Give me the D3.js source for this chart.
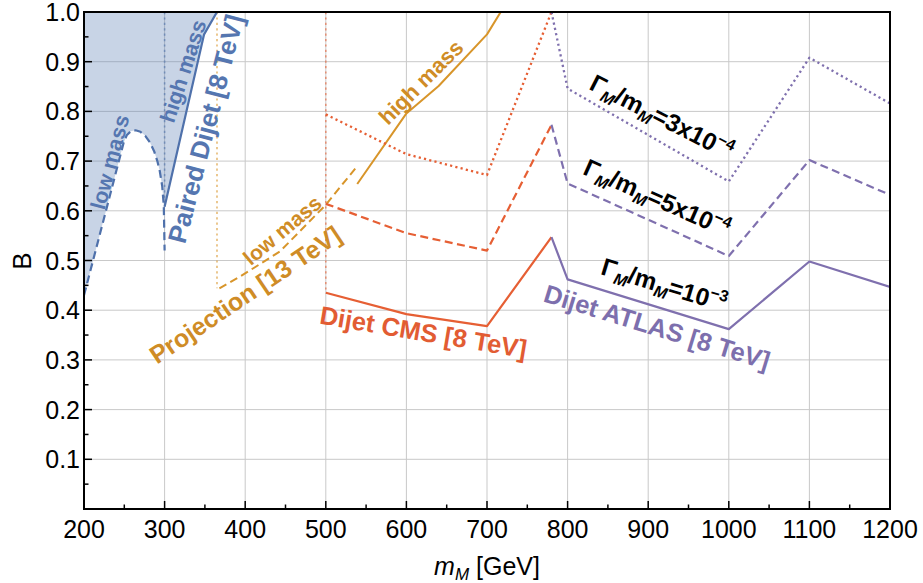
<!DOCTYPE html>
<html><head><meta charset="utf-8">
<script src="https://cdn.jsdelivr.net/npm/d3@7"></script>
<style>body{margin:0;background:#fff}text{font-family:"Liberation Sans",Arial,sans-serif}</style>
</head><body><svg id="c" width="923" height="583"></svg>
<script>
// ---- data ----
const xTicks=[200,300,400,500,600,700,800,900,1000,1100,1200];
const xMinor=[250,350,450,550,650,750,850,950,1050,1150];
const yTicks=[0.1,0.2,0.3,0.4,0.5,0.6,0.7,0.8,0.9,1.0];
const yMinor=[0.05,0.15,0.25,0.35,0.45,0.55,0.65,0.75,0.85,0.95];
const pairedLow=[[200,0.43],[249,0.736],[253,0.752],[258,0.76],[264,0.762],[270,0.759],[276,0.751],[282,0.737],[287,0.72],[291,0.70],[294,0.68],[297,0.65],[299,0.61],[300,0.52]];
const pairedHigh=[[300,0.608],[349,0.955],[365,1.0]];
const pairedEdge=[[300,1.0],[300,0.608]];
const projLow=[[368,0.444],[393,0.467],[443,0.518],[500,0.612],[539,0.69]];
const projHigh=[[539,0.654],[600,0.796],[640,0.851],[700,0.955],[717,1.0]];
const projEdge=[[365,1.0],[365,0.444]];
const cmsEdge=[[500,1.0],[500,0.435]];
const cmsDotted=[[500,0.794],[600,0.714],[700,0.672],[780,1.0]];
const cmsDashed=[[500,0.614],[600,0.555],[700,0.52],[780,0.773]];
const cmsSolid=[[500,0.435],[600,0.392],[700,0.368],[780,0.547]];
const atlasDotted=[[780,1.0],[800,0.846],[1000,0.659],[1100,0.908],[1200,0.816]];
const atlasDashed=[[780,0.773],[800,0.655],[1000,0.509],[1100,0.702],[1200,0.632]];
const atlasSolid=[[780,0.547],[800,0.462],[1000,0.362],[1100,0.498],[1200,0.447]];

const C={blue:"#4f71ab",orange:"#d8952a",red:"#e65f34",purple:"#7f70ae"};
const T={blue:"#5576b0",orange:"#cf8c26",red:"#e25c33",purple:"#7d6fad"};

const svg=d3.select("#c");
const x=d3.scaleLinear().domain([200,1200]).range([84,890]);
const y=d3.scaleLinear().domain([0,1]).range([509,12]);
const line=d3.line().x(d=>x(d[0])).y(d=>y(d[1]));

svg.append("defs").append("clipPath").attr("id","clip").append("rect")
  .attr("x",84).attr("y",12).attr("width",806).attr("height",497);

// grid
const g=svg.append("g");
g.selectAll(".gx").data(xTicks).join("line").attr("x1",d=>x(d)).attr("x2",d=>x(d))
  .attr("y1",y(0)).attr("y2",y(1)).attr("stroke","#c9c9c9").attr("stroke-width",1);
g.selectAll(".gy").data(yTicks).join("line").attr("y1",d=>y(d)).attr("y2",d=>y(d))
  .attr("x1",x(200)).attr("x2",x(1200)).attr("stroke","#c9c9c9").attr("stroke-width",1);

const p=svg.append("g").attr("clip-path","url(#clip)");
// fill region
const poly=pairedLow.concat(pairedHigh).concat([[200,1.0]]);
p.append("path").attr("d",line(poly)+"Z").attr("fill","#5e81b5").attr("fill-opacity",0.34);

function draw(data,color,style,w,op){
  const path=p.append("path").attr("d",line(data)).attr("fill","none").attr("stroke",color)
    .attr("stroke-width",w||2).attr("stroke-opacity",op||1).attr("stroke-linejoin","round");
  if(style==="dash") path.attr("stroke-dasharray","8,4.5");
  if(style==="dot") path.attr("stroke-dasharray","2.2,3.2");
}
draw(pairedEdge,C.blue,"dot",1.6,0.6);
draw(projEdge,C.orange,"dot",1.6,0.65);
draw(cmsEdge,C.red,"dot",1.6,0.6);
draw(pairedLow,C.blue,"dash",2.2);
draw(pairedHigh,C.blue,"solid",2.2);
draw(projLow,C.orange,"dash",2);
draw(projHigh,C.orange,"solid",2);
draw(cmsDotted,C.red,"dot",2.3);
draw(cmsDashed,C.red,"dash",2.2);
draw(cmsSolid,C.red,"solid",2.2);
draw(atlasDotted,C.purple,"dot",2.3);
draw(atlasDashed,C.purple,"dash",2.2);
draw(atlasSolid,C.purple,"solid",2.2);

// frame & axes
svg.append("rect").attr("x",84).attr("y",12).attr("width",806).attr("height",497)
  .attr("fill","none").attr("stroke","#000").attr("stroke-width",2);
const ax=svg.append("g").attr("stroke","#000").attr("stroke-width",1.5);
ax.selectAll(".tx").data(xTicks).join("line").attr("x1",d=>x(d)).attr("x2",d=>x(d)).attr("y1",y(0)).attr("y2",y(0)-8);
ax.selectAll(".mx").data(xMinor).join("line").attr("x1",d=>x(d)).attr("x2",d=>x(d)).attr("y1",y(0)).attr("y2",y(0)-4.5);
ax.selectAll(".ty").data(yTicks).join("line").attr("y1",d=>y(d)).attr("y2",d=>y(d)).attr("x1",x(200)).attr("x2",x(200)+8);
ax.selectAll(".my").data(yMinor).join("line").attr("y1",d=>y(d)).attr("y2",d=>y(d)).attr("x1",x(200)).attr("x2",x(200)+4.5);

svg.selectAll(".lx").data(xTicks).join("text").attr("x",d=>x(d)).attr("y",538)
  .attr("text-anchor","middle").attr("font-size",25).text(d=>d);
svg.selectAll(".ly").data(yTicks).join("text").attr("x",80).attr("y",d=>y(d)+9)
  .attr("text-anchor","end").attr("font-size",25).text(d=>d.toFixed(1));
svg.append("text").attr("transform","translate(31,261) rotate(-90)").attr("text-anchor","middle")
  .attr("font-size",26).text("B");
const xt=svg.append("text").attr("x",487).attr("y",575).attr("text-anchor","middle").attr("font-size",25);
xt.append("tspan").attr("font-style","italic").text("m");
xt.append("tspan").attr("font-style","italic").attr("font-size",17).attr("dy",5).text("M");
xt.append("tspan").attr("dy",-5).text(" [GeV]");

// labels
function label(xv,yv,rot,txt,color,size){
  return svg.append("text").attr("transform",`translate(${x(xv)},${y(yv)}) rotate(${rot})`)
    .attr("text-anchor","middle").attr("dy","0.35em").attr("font-size",size)
    .attr("font-weight","bold").attr("fill",color).text(txt);
}
label(232,0.698,-75,"low mass",T.blue,21.5);
label(323,0.881,-72,"high mass",T.blue,21.5);
label(351,0.765,-75.5,"Paired Dijet [8 TeV]",T.blue,26);
label(446,0.561,-40,"low mass",T.orange,21);
label(400,0.431,-34,"Projection [13 TeV]",T.orange,25);
label(618,0.859,-45,"high mass",T.orange,22);
label(621,0.356,9.5,"Dijet CMS [8 TeV]",T.red,25.5);
label(911,0.366,17,"Dijet ATLAS [8 TeV]",T.purple,25.5);

function gamma(xv,yv,rot,val,exp){
  const t=svg.append("text").attr("transform",`translate(${x(xv)},${y(yv)}) rotate(${rot})`)
    .attr("text-anchor","middle").attr("font-size",24.5).attr("font-weight","bold").attr("fill","#000")
    .attr("dy","0.35em");
  t.append("tspan").text("Γ");
  t.append("tspan").attr("font-size",16).attr("font-style","italic").attr("dy",5).text("M");
  t.append("tspan").attr("dy",-5).text("/m");
  t.append("tspan").attr("font-size",16).attr("font-style","italic").attr("dy",5).text("M");
  t.append("tspan").attr("dy",-5).text("="+val);
  t.append("tspan").attr("font-size",16).attr("dy",-10).text(exp);
}
gamma(917,0.789,27,"3x10","−4");
gamma(911,0.626,24,"5x10","−4");
gamma(920,0.451,17,"10","−3");
</script></body></html>
